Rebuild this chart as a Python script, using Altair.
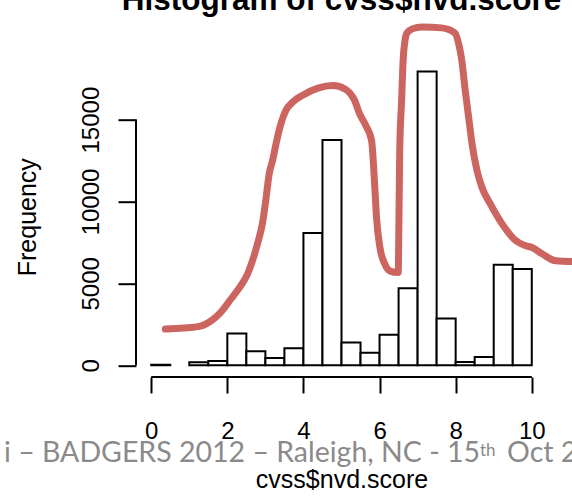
import altair as alt
import pandas as pd

# Histogram bins (width 0.5) and their counts
bin_start = [0.0, 0.5, 1.0, 1.5, 2.0, 2.5, 3.0, 3.5, 4.0, 4.5,
             5.0, 5.5, 6.0, 6.5, 7.0, 7.5, 8.0, 8.5, 9.0, 9.5]
bin_end = [0.5, 1.0, 1.5, 2.0, 2.5, 3.0, 3.5, 4.0, 4.5, 5.0,
           5.5, 6.0, 6.5, 7.0, 7.5, 8.0, 8.5, 9.0, 9.5, 10.0]
frequency = [30, 0, 180, 260, 1940, 860, 450, 1040, 8080, 13750,
             1390, 770, 1860, 4700, 17940, 2860, 200, 510, 6130, 5870]

# Hand-drawn outline sketched over the histogram
sketch_x = [0.37, 0.85, 1.29, 1.60, 1.82, 2.09, 2.35, 2.53, 2.66, 2.79,
            2.92, 3.01, 3.10, 3.19, 3.28, 3.41, 3.54, 3.72, 3.98, 4.38,
            4.78, 5.10, 5.34, 5.48, 5.65, 5.79, 5.87, 5.92, 6.01, 6.14,
            6.27, 6.49, 6.51, 6.53, 6.58, 6.62, 6.67, 6.72, 6.86, 7.11,
            7.63, 7.98, 8.08, 8.16, 8.25, 8.34, 8.43, 8.56, 8.69, 8.91,
            9.22, 9.53, 9.84, 10.01, 10.28, 10.63, 11.12]
sketch_y = [2210, 2270, 2390, 2760, 3210, 4030, 4840, 5560, 6380, 7400,
            8630, 10060, 11690, 12510, 13530, 14760, 15570, 16080, 16490, 16920,
            17080, 16860, 16190, 15330, 14590, 13730, 11080, 9030, 7190, 6170,
            5760, 5660, 9030, 13120, 16190, 18640, 19860, 20290, 20540, 20660,
            20600, 20290, 19620, 18640, 16800, 15160, 13530, 11890, 10870, 9850,
            8630, 7710, 7300, 7190, 6790, 6380, 6330]

x_ticks = [0, 2, 4, 6, 8, 10]
y_ticks = [0, 5000, 10000, 15000]

title_text = "Histogram of cvss$nvd.score"
x_title = "cvss$nvd.score"
y_title = "Frequency"
footer_main = "i \u2013 BADGERS 2012 \u2013 Raleigh, NC - 15"
footer_sup = "th"
footer_tail = " Oct 2012"

FONT = "Liberation Sans"
FOOT_FONT = "Lato"
PLOT_W = 411
PLOT_H = 317.3

hist_df = pd.DataFrame({"start": bin_start, "end": bin_end, "frequency": frequency})
sketch_df = pd.DataFrame({"i": range(len(sketch_x)), "x": sketch_x, "y": sketch_y})

# R-style 4% expansion of the plotting region
x_span = x_ticks[-1] - x_ticks[0]
x_dom = [x_ticks[0] - 0.04 * x_span, x_ticks[-1] + 0.04 * x_span]
y_dom = [-0.04 * max(frequency), 1.04 * max(frequency)]

x_scale = alt.Scale(domain=x_dom, nice=False, zero=False)
y_scale = alt.Scale(domain=y_dom, nice=False, zero=False)

x_axis = alt.Axis(
    values=x_ticks, domain=False, grid=False,
    tickSize=16, tickWidth=2, tickColor="black",
    labelFont=FONT, labelFontSize=24, labelColor="black",
    labelPadding=45, labelBaseline="alphabetic", labelAlign="center",
    labelFlush=False, labelOverlap=False,
    title=x_title, titleFont=FONT, titleFontSize=25, titleFontWeight="normal",
    titleColor="black", titleBaseline="alphabetic", titleY=110,
)
y_axis = alt.Axis(
    values=y_ticks, format="d", domain=False, grid=False,
    tickSize=18, tickWidth=2, tickColor="black",
    labelFont=FONT, labelFontSize=24, labelColor="black",
    labelAngle=270, labelAlign="center", labelBaseline="alphabetic",
    labelPadding=20, labelFlush=False, labelOverlap=False,
    title=y_title, titleFont=FONT, titleFontSize=25, titleFontWeight="normal",
    titleColor="black", titleAngle=270, titleAlign="center",
    titleBaseline="alphabetic", titleX=-101, titleY=157,
)

bars = alt.Chart(hist_df).transform_filter("datum.frequency > 0").mark_rect(
    fill="white", stroke="black", strokeWidth=2
).encode(
    x=alt.X("start:Q", scale=x_scale, axis=x_axis),
    x2="end:Q",
    y=alt.Y("frequency:Q", scale=y_scale, axis=y_axis),
    y2=alt.datum(0),
)

# Axis lines span only the tick range, as in base R graphics
x_line = alt.Chart(pd.DataFrame({"a": [x_ticks[0]], "b": [x_ticks[-1]], "y": [y_dom[0]]})).mark_rule(
    color="black", strokeWidth=2
).encode(
    x=alt.X("a:Q", scale=x_scale, axis=x_axis),
    x2="b:Q",
    y=alt.Y("y:Q", scale=y_scale, axis=y_axis),
)
y_line = alt.Chart(pd.DataFrame({"x": [x_dom[0]], "a": [y_ticks[0]], "b": [y_ticks[-1]]})).mark_rule(
    color="black", strokeWidth=2
).encode(
    x=alt.X("x:Q", scale=x_scale, axis=x_axis),
    y=alt.Y("a:Q", scale=y_scale, axis=y_axis),
    y2="b:Q",
)

sketch = alt.Chart(sketch_df).mark_line(
    color="#CC6560", strokeWidth=7, strokeCap="round", strokeJoin="round",
    interpolate="monotone", clip=False
).encode(
    x=alt.X("x:Q", scale=x_scale, axis=x_axis),
    y=alt.Y("y:Q", scale=y_scale, axis=y_axis),
    order="i:Q",
)

def text_piece(text, x, y, size, font, color, align="left", weight="normal"):
    return alt.Chart(pd.DataFrame({"t": [text]})).mark_text(
        align=align, baseline="alphabetic", font=font, fontSize=size,
        fontWeight=weight, color=color
    ).encode(x=alt.value(x), y=alt.value(y), text="t:N")

# Main title, sitting partly above the top edge of the page
title = text_piece(title_text, PLOT_W / 2, -49.7, 31.5, FONT, "black", align="center", weight="bold")

# Slide footer running across the lower part of the page
footer = (
    text_piece(footer_main, -132, 402, 28.5, FOOT_FONT, "#8a8a8a")
    + text_piece(footer_sup, 344, 396.5, 17, FOOT_FONT, "#8a8a8a")
    + text_piece(footer_tail, 371, 402, 28.5, FOOT_FONT, "#8a8a8a")
)

chart = alt.layer(bars, x_line, y_line, sketch, title, footer).properties(
    width=PLOT_W,
    height=PLOT_H,
    autosize=alt.AutoSizeParams(type="none"),
    padding={"left": 136, "top": 59.7, "right": 25, "bottom": 120},
    background="white",
).configure_view(stroke="transparent")

chart.save("out.html", embed_options={"renderer": "svg", "actions": False})
